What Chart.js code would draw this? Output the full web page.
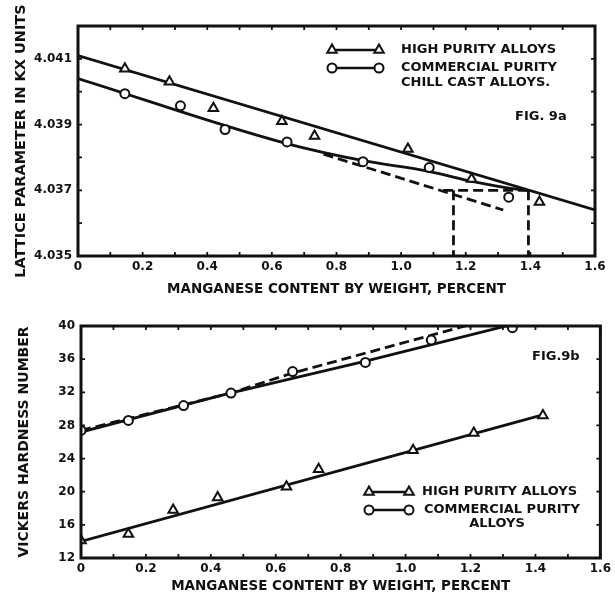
<!DOCTYPE html>
<html>
<head>
<meta charset="utf-8">
<script src="https://cdn.jsdelivr.net/npm/chart.js@4.4.1/dist/chart.umd.min.js"></script>
<style>
  body { margin: 0; background: #fff; }
  #wrap { position: relative; width: 615px; height: 601px; }
  canvas { position: absolute; left: 0; }
</style>
</head>
<body>
<div id="wrap">
  <canvas id="fig9a" width="615" height="300" style="top:0px"></canvas>
  <canvas id="fig9b" width="615" height="301" style="top:300px"></canvas>
</div>
<script>
// ---- Fig. 9a : lattice parameter ----
const mnHighA  = [0.145, 0.283, 0.419, 0.631, 0.732, 1.021, 1.218, 1.428];
const latHighA = [4.0407, 4.0403, 4.0395, 4.0391, 4.03865, 4.03826, 4.03734, 4.03664];
const mnCommA  = [0.145, 0.317, 0.455, 0.647, 0.882, 1.087, 1.333];
const latCommA = [4.03994, 4.03957, 4.03885, 4.03847, 4.03787, 4.03769, 4.03679];

const fitHighAx = [0, 1.6];
const fitHighAy = [4.0411, 4.0364];
const curveCommAx = [0, 0.646, 0.883, 1.089, 1.223, 1.337, 1.39];
const curveCommAy = [4.0404, 4.03842, 4.0379, 4.03757, 4.03726, 4.03706, 4.0370];
const dashAx = [0.76, 1.316];
const dashAy = [4.0381, 4.0364];
const dashLevelAx = [1.13, 1.39];
const dashLevelAy = [4.0370, 4.0370];
const dropLeftAx = [1.162, 1.162];
const dropRightAx = [1.394, 1.394];
const dropAy = [4.0370, 4.035];

const latTicks = [4.035, 4.037, 4.039, 4.041];

// ---- Fig. 9b : Vickers hardness ----
const mnHighB  = [0, 0.146, 0.284, 0.421, 0.633, 0.732, 1.023, 1.210, 1.423];
const hvHighB  = [14.1, 14.9, 17.8, 19.3, 20.6, 22.7, 25.0, 27.1, 29.2];
const mnCommB  = [0, 0.146, 0.316, 0.462, 0.652, 0.876, 1.079, 1.329];
const hvCommB  = [27.4, 28.6, 30.4, 31.9, 34.5, 35.6, 38.3, 39.8];

const fitHighBx = [0, 1.425];
const fitHighBy = [14.0, 29.3];
const fitCommBx = [0, 0.45, 0.88, 1.33];
const fitCommBy = [27.2, 31.8, 35.8, 40.2];
const dashCommBx = [0, 0.46, 0.65, 1.22];
const dashCommBy = [27.4, 31.9, 34.3, 40.4];

const mnLabels = [0, 0.2, 0.4, 0.6, 0.8, 1.0, 1.2, 1.4, 1.6];

const INK = '#111';
const FAMILY = '"DejaVu Sans", sans-serif';
const DASH = [10, 5];

function pts(xs, ys) {
  return xs.map((x, i) => ({ x: x, y: ys[i] }));
}

function marks(xs, ys, style, r) {
  return {
    data: pts(xs, ys), showLine: false, pointStyle: style, pointRadius: r,
    pointBorderWidth: 2, pointBorderColor: INK, pointBackgroundColor: '#fff'
  };
}

function line(xs, ys, width, dash) {
  return {
    data: pts(xs, ys), showLine: true, pointRadius: 0, borderColor: INK,
    borderWidth: width, borderDash: dash || [], fill: false
  };
}

function drawMarker(ctx, style, x, y, r) {
  ctx.beginPath();
  if (style === 'triangle') {
    ctx.moveTo(x, y - r);
    ctx.lineTo(x + r * 0.866, y + r * 0.5);
    ctx.lineTo(x - r * 0.866, y + r * 0.5);
    ctx.closePath();
  } else {
    ctx.arc(x, y, r, 0, Math.PI * 2);
  }
  ctx.fillStyle = '#fff';
  ctx.fill();
  ctx.stroke();
}

// frame round the plot and small inward ticks
const framePlugin = {
  id: 'frame',
  afterDraw(chart) {
    const ctx = chart.ctx;
    const a = chart.chartArea;
    ctx.save();
    ctx.strokeStyle = INK;
    ctx.lineWidth = 1.8;
    const xs = chart.scales.x, ys = chart.scales.y;
    xs.ticks.forEach(t => {
      const p = xs.getPixelForValue(t.value);
      ctx.beginPath();
      ctx.moveTo(p, a.bottom); ctx.lineTo(p, a.bottom - 4);
      ctx.moveTo(p, a.top); ctx.lineTo(p, a.top + 4);
      ctx.stroke();
    });
    ys.ticks.forEach(t => {
      const p = ys.getPixelForValue(t.value);
      ctx.beginPath();
      ctx.moveTo(a.left, p); ctx.lineTo(a.left + 4, p);
      ctx.moveTo(a.right, p); ctx.lineTo(a.right - 4, p);
      ctx.stroke();
    });
    ctx.lineWidth = 3;
    ctx.strokeRect(a.left, a.top, a.right - a.left, a.bottom - a.top);
    ctx.restore();
  }
};

function notePlugin(items) {
  return {
    id: 'notes',
    afterDraw(chart) {
      const ctx = chart.ctx;
      ctx.save();
      ctx.strokeStyle = INK;
      ctx.fillStyle = INK;
      ctx.lineWidth = 2.4;
      items.forEach(it => {
        if (it.key) {
          ctx.beginPath();
          ctx.moveTo(it.x0, it.y); ctx.lineTo(it.x1, it.y);
          ctx.stroke();
          ctx.lineWidth = 2;
          drawMarker(ctx, it.key, it.x0, it.y, it.r);
          drawMarker(ctx, it.key, it.x1, it.y, it.r);
          ctx.lineWidth = 2.4;
        } else {
          ctx.fillStyle = INK;
          ctx.font = 'bold ' + (it.size || 13) + 'px ' + FAMILY;
          ctx.textAlign = it.align || 'left';
          ctx.textBaseline = 'middle';
          ctx.fillText(it.text, it.x, it.y);
        }
      });
      ctx.restore();
    }
  };
}

function axisFont(size) {
  return { family: FAMILY, size: size, weight: 'bold' };
}

function mnAxis(xHeight, tickPad, titlePad) {
  return {
    type: 'linear', min: 0, max: 1.6,
    afterFit: s => { s.height = xHeight; },
    grid: { display: false, drawTicks: false },
    border: { display: false },
    ticks: {
      stepSize: 0.1, autoSkip: false, maxRotation: 0, padding: tickPad,
      color: INK, font: axisFont(12),
      callback: v => {
        const hit = mnLabels.find(m => Math.abs(m - v) < 1e-6);
        if (hit === undefined) return '';
        return hit === 0 ? '0' : hit.toFixed(1);
      }
    },
    title: {
      display: true, text: 'MANGANESE CONTENT BY WEIGHT, PERCENT',
      color: INK, font: axisFont(13.5), padding: { top: 0, bottom: titlePad }
    }
  };
}

// ---------- Fig 9a ----------
new Chart(document.getElementById('fig9a'), {
  type: 'scatter',
  data: {
    datasets: [
      marks(mnHighA, latHighA, 'triangle', 5.5),
      marks(mnCommA, latCommA, 'circle', 4.5),
      line(fitHighAx, fitHighAy, 2.8),
      Object.assign(line(curveCommAx, curveCommAy, 2.8), { cubicInterpolationMode: 'monotone' }),
      line(dashAx, dashAy, 2.8, DASH),
      line(dashLevelAx, dashLevelAy, 2.8, DASH),
      line(dropLeftAx, dropAy, 2.8, DASH),
      line(dropRightAx, dropAy, 2.8, DASH)
    ]
  },
  options: {
    responsive: false,
    animation: false,
    layout: { padding: { top: 26, right: 20, left: 0, bottom: 0 } },
    plugins: { legend: { display: false }, tooltip: { enabled: false } },
    scales: {
      x: mnAxis(44, 4, 2),
      y: {
        type: 'linear', min: 4.035, max: 4.042,
        afterFit: s => { s.width = 78; },
        grid: { display: false, drawTicks: false },
        border: { display: false },
        ticks: {
          stepSize: 0.001, padding: 6, color: INK, font: axisFont(12),
          callback: v => {
            const hit = latTicks.find(t => Math.abs(t - v) < 1e-7);
            return hit === undefined ? '' : hit.toFixed(3);
          }
        },
        title: {
          display: true, text: 'LATTICE PARAMETER IN KX UNITS',
          color: INK, font: axisFont(14.5), padding: { top: 13, bottom: 0 }
        }
      }
    }
  },
  plugins: [framePlugin, notePlugin([
    { key: 'triangle', x0: 332, x1: 379, y: 50, r: 5.5 },
    { key: 'circle', x0: 332, x1: 379, y: 68, r: 4.5 },
    { text: 'HIGH PURITY ALLOYS', x: 401, y: 50 },
    { text: 'COMMERCIAL PURITY', x: 401, y: 68 },
    { text: 'CHILL CAST ALLOYS.', x: 401, y: 83 },
    { text: 'FIG. 9a', x: 515, y: 117 }
  ])]
});

// ---------- Fig 9b ----------
new Chart(document.getElementById('fig9b'), {
  type: 'scatter',
  data: {
    datasets: [
      marks(mnHighB, hvHighB, 'triangle', 5.5),
      marks(mnCommB, hvCommB, 'circle', 4.5),
      line(fitHighBx, fitHighBy, 2.8),
      line(fitCommBx, fitCommBy, 2.8),
      line(dashCommBx, dashCommBy, 2.8, DASH)
    ]
  },
  options: {
    responsive: false,
    animation: false,
    layout: { padding: { top: 26, right: 13, left: 0, bottom: 0 } },
    plugins: { legend: { display: false }, tooltip: { enabled: false } },
    scales: {
      x: mnAxis(43, 4, 6),
      y: {
        type: 'linear', min: 12, max: 40,
        afterFit: s => { s.width = 81; },
        grid: { display: false, drawTicks: false },
        border: { display: false },
        ticks: { stepSize: 4, padding: 6, color: INK, font: axisFont(12) },
        title: {
          display: true, text: 'VICKERS HARDNESS NUMBER',
          color: INK, font: axisFont(14), padding: { top: 16, bottom: 0 }
        }
      }
    }
  },
  plugins: [framePlugin, notePlugin([
    { key: 'triangle', x0: 369, x1: 409, y: 192, r: 5.5 },
    { key: 'circle', x0: 369, x1: 409, y: 210, r: 4.5 },
    { text: 'HIGH PURITY ALLOYS', x: 422, y: 192 },
    { text: 'COMMERCIAL PURITY', x: 424, y: 210 },
    { text: 'ALLOYS', x: 497, y: 224, align: 'center' },
    { text: 'FIG.9b', x: 532, y: 57 }
  ])]
});
</script>
</body>
</html>
